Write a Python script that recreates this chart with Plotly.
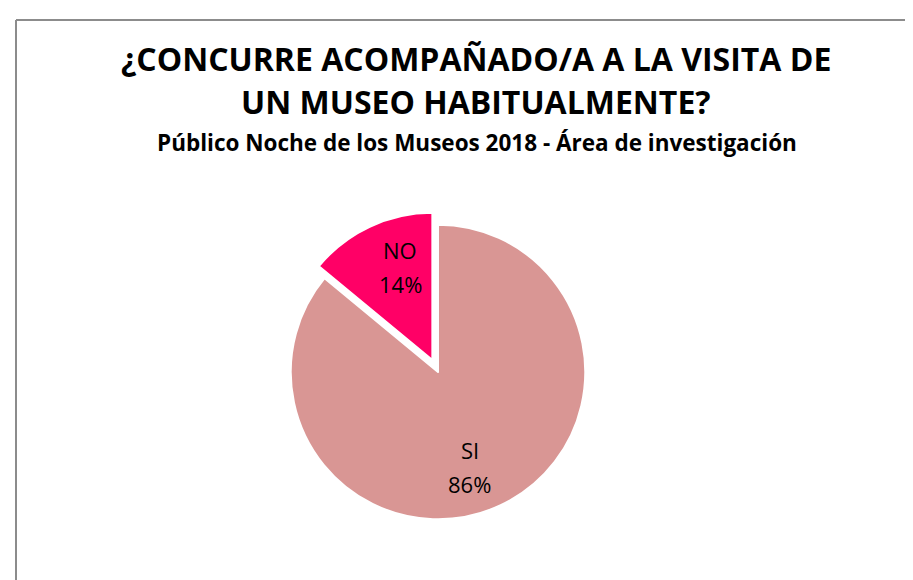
import math
import plotly.graph_objects as go

labels = ["SI", "NO"]
values = [86, 14]
colors = ["#D99694", "#FF0066"]
pulls = [0, 0.09]

title_line1 = "¿CONCURRE ACOMPAÑADO/A A LA VISITA DE"
title_line2 = "UN MUSEO HABITUALMENTE?"
subtitle = "Público Noche de los Museos 2018 - Área de investigación"

W, H = 913, 580
FONT = "Open Sans"
CX, CY, R = 438, 372, 146   # pie centre / radius in pixels
LABEL_K = 0.68              # radial position of labels (fraction of radius)
LABEL_ROT = math.radians(6) # small angular shift of labels (clockwise)
LABEL_DX, LABEL_DY = -9, -7 # fine offset of label text, px
LINE_GAP = 17               # half distance between label lines, px

fig = go.Figure()
fig.add_trace(go.Pie(
    labels=labels, values=values, sort=False, direction="clockwise", rotation=0,
    pull=pulls,
    marker=dict(colors=colors, line=dict(color="white", width=2)),
    textinfo="none",
    showlegend=False, hoverinfo="label+percent",
    domain=dict(x=[269.5 / W, 590.5 / W], y=[1 - 524.5 / H, 1 - 203.5 / H]),
))

annotations = [
    dict(text="<b>" + title_line1 + "</b>", x=468 / W, y=1 - 50 / H, xref="paper", yref="paper",
         showarrow=False, xanchor="center", yanchor="middle",
         font=dict(family=FONT, size=32, color="black")),
    dict(text="<b>" + title_line2 + "</b>", x=468 / W, y=1 - 93 / H, xref="paper", yref="paper",
         showarrow=False, xanchor="center", yanchor="middle",
         font=dict(family=FONT, size=32, color="black")),
    dict(text="<b>" + subtitle + "</b>", x=469 / W, y=1 - 134 / H, xref="paper", yref="paper",
         showarrow=False, xanchor="center", yanchor="middle",
         font=dict(family=FONT, size=22.5, color="black")),
]

total = sum(values)
cum = 0.0
for lab, v, p in zip(labels, values, pulls):
    frac = v / total
    theta = 2 * math.pi * (cum + frac / 2) + LABEL_ROT
    cum += frac
    rr = R * (LABEL_K + p)
    px = CX + LABEL_DX + rr * math.sin(theta)
    py = CY + LABEL_DY - rr * math.cos(theta)
    for txt, off in ((lab, -LINE_GAP), (f"{round(frac * 100)}%", LINE_GAP)):
        annotations.append(dict(
            text=txt, x=px / W, y=1 - (py + off) / H, xref="paper", yref="paper",
            showarrow=False, xanchor="center", yanchor="middle",
            font=dict(family=FONT, size=22, color="black")))

fig.update_layout(
    width=W, height=H, margin=dict(l=0, r=0, t=0, b=0),
    paper_bgcolor="white", plot_bgcolor="white",
    shapes=[
        dict(type="line", xref="paper", yref="paper", x0=8 / W, x1=1.01, y0=1 - 12 / H, y1=1 - 12 / H,
             line=dict(color="#8C8C8C", width=2)),
        dict(type="line", xref="paper", yref="paper", x0=8 / W, x1=8 / W, y0=-0.01, y1=1 - 12 / H,
             line=dict(color="#8C8C8C", width=2)),
    ],
    annotations=annotations,
)
fig.write_html("out.html")
